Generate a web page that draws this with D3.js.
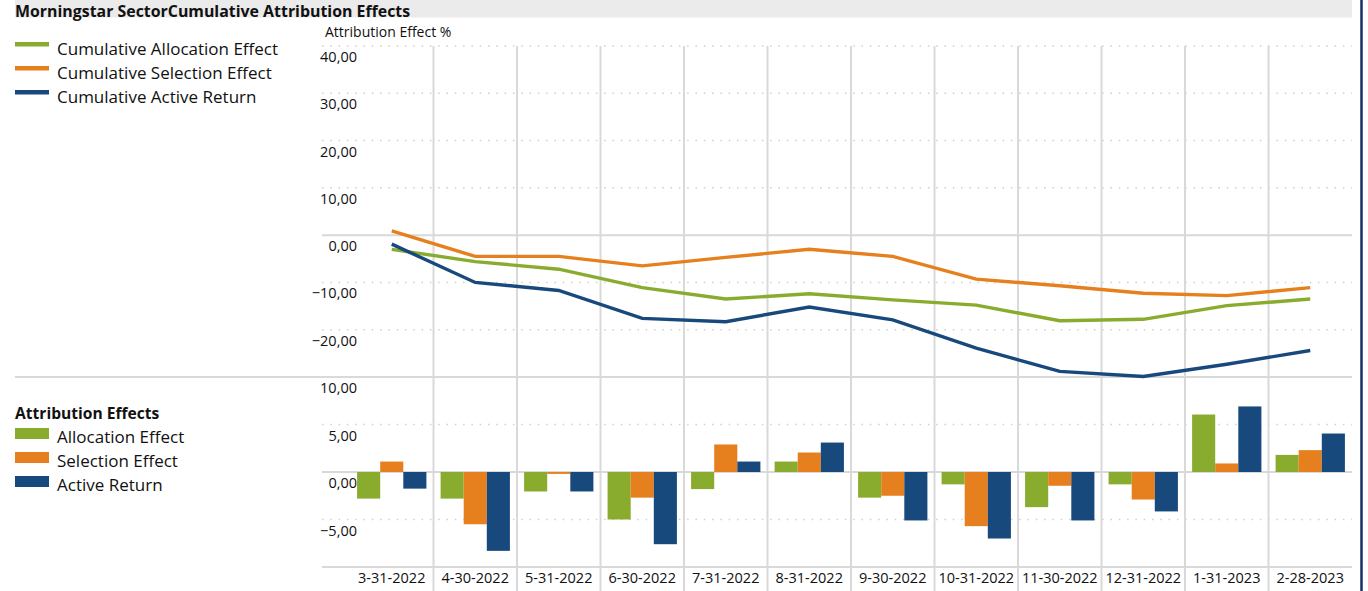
<!DOCTYPE html>
<meta charset="utf-8">
<style>
  body { margin: 0; background: white; font-family: "Open Sans", sans-serif; }
  .grid-dot { stroke: #cfcfcf; stroke-width: 1.5; stroke-dasharray: 1.5,6.8; }
  .grid-solid { stroke: #d9d9d9; stroke-width: 2; }
  .ylab, .xlab { font-size: 14.5px; fill: #111; }
  .leg { font-size: 17px; fill: #111; }
</style>
<body>
<script src="https://d3js.org/d3.v7.min.js"></script>
<script>
  // months
  var dates = ["3-31-2022", "4-30-2022", "5-31-2022", "6-30-2022", "7-31-2022", "8-31-2022",
    "9-30-2022", "10-31-2022", "11-30-2022", "12-31-2022", "1-31-2023", "2-28-2023"];

  // cumulative effects (top chart)
  var cumAllocation = [-3.0, -5.6, -7.2, -11.1, -13.5, -12.4, -13.7, -14.8, -18.1, -17.8, -14.9, -13.5];
  var cumSelection = [0.9, -4.5, -4.5, -6.5, -4.7, -3.0, -4.5, -9.3, -10.7, -12.3, -12.8, -11.1];
  var cumActive = [-1.9, -10.0, -11.7, -17.6, -18.3, -15.2, -17.9, -23.9, -28.8, -29.9, -27.3, -24.4];

  // monthly effects (bottom chart)
  var allocation = [-2.8, -2.8, -2.05, -5.0, -1.8, 1.1, -2.7, -1.3, -3.7, -1.3, 6.05, 1.8];
  var selection = [1.1, -5.5, -0.2, -2.7, 2.9, 2.05, -2.5, -5.7, -1.45, -2.9, 0.9, 2.3];
  var active = [-1.75, -8.3, -2.05, -7.6, 1.1, 3.1, -5.1, -7.0, -5.1, -4.15, 6.9, 4.05];

  var topTicks = [40, 30, 20, 10, 0, -10, -20];
  var botTicks = [10, 5, 0, -5];

  var green = "#89ac2f", orange = "#e6801f", blue = "#17497c";
  var fmt = function (v) { return d3.format(".2f")(v).replace(".", ","); };

  var W = 1368, H = 591;
  var svg = d3.select("body").append("svg").attr("width", W).attr("height", H);

  var plotL = 350, plotR = 1352, gridL = 322, labX = 357;

  var x0 = d3.scaleBand().domain(dates).range([plotL, plotR]);
  var bw = x0.bandwidth();
  var yTop = d3.scaleLinear().domain([-30, 40]).range([377, 46]);
  var yBot = d3.scaleLinear().domain([-10, 10]).range([567, 377]);

  // title bar
  svg.append("rect").attr("x", 15).attr("y", 0).attr("width", plotR - 15).attr("height", 17.5).attr("fill", "#ebebeb");
  svg.append("text").attr("x", 15).attr("y", 16.5).attr("font-weight", "bold").attr("font-size", "15.9px")
    .attr("fill", "#111").text("Morningstar SectorCumulative Attribution Effects");

  // right border
  svg.append("line").attr("x1", 1361.5).attr("x2", 1361.5).attr("y1", 0).attr("y2", H)
    .attr("stroke", "#1c2b6b").attr("stroke-width", 2.5);

  svg.append("text").attr("x", 325).attr("y", 37).attr("font-size", "14px").attr("fill", "#111")
    .text("Attribution Effect %");

  // top grid
  var tg = svg.append("g");
  tg.selectAll("line.h").data(topTicks).enter().append("line")
    .attr("class", d => d === 0 ? "grid-solid" : "grid-dot")
    .attr("x1", gridL).attr("x2", plotR).attr("y1", d => yTop(d)).attr("y2", d => yTop(d));
  tg.selectAll("line.v").data(dates.slice(1)).enter().append("line").attr("class", "grid-solid")
    .attr("x1", d => x0(d)).attr("x2", d => x0(d)).attr("y1", yTop(40)).attr("y2", yTop(-30));
  tg.selectAll("text").data(topTicks).enter().append("text").attr("class", "ylab")
    .attr("x", labX).attr("y", d => yTop(d) + 16).attr("text-anchor", "end").text(fmt);

  // separator
  svg.append("line").attr("class", "grid-solid").attr("x1", 15).attr("x2", plotR)
    .attr("y1", yTop(-30)).attr("y2", yTop(-30));

  // bottom grid
  var bg = svg.append("g");
  bg.selectAll("line.h").data([5, 0, -5, -10]).enter().append("line")
    .attr("class", d => (d === 0 || d === -10) ? "grid-solid" : "grid-dot")
    .attr("x1", gridL).attr("x2", plotR).attr("y1", d => yBot(d)).attr("y2", d => yBot(d));
  bg.selectAll("line.v").data(dates.slice(1)).enter().append("line").attr("class", "grid-solid")
    .attr("x1", d => x0(d)).attr("x2", d => x0(d)).attr("y1", yBot(10)).attr("y2", H);
  bg.selectAll("text").data(botTicks).enter().append("text").attr("class", "ylab")
    .attr("x", labX).attr("y", d => yBot(d) + 16).attr("text-anchor", "end").text(fmt);

  // x labels
  svg.append("g").selectAll("text").data(dates).enter().append("text").attr("class", "xlab")
    .attr("x", d => x0(d) + bw / 2).attr("y", 583).attr("text-anchor", "middle").text(d => d);

  // lines
  var line = d3.line().x((d, i) => x0(dates[i]) + bw / 2).y(d => yTop(d));
  [[cumAllocation, green], [cumSelection, orange], [cumActive, blue]].forEach(function (s) {
    svg.append("path").datum(s[0]).attr("d", line).attr("fill", "none")
      .attr("stroke", s[1]).attr("stroke-width", 3.4);
  });

  // bars
  var series = [{ k: "a", v: allocation, c: green }, { k: "s", v: selection, c: orange }, { k: "r", v: active, c: blue }];
  var x1 = d3.scaleBand().domain(series.map(d => d.k)).range([bw * 0.085, bw * 0.915]);
  series.forEach(function (s) {
    svg.append("g").selectAll("rect").data(s.v).enter().append("rect")
      .attr("x", (d, i) => x0(dates[i]) + x1(s.k))
      .attr("width", x1.bandwidth())
      .attr("y", d => yBot(Math.max(0, d)))
      .attr("height", d => Math.abs(yBot(d) - yBot(0)))
      .attr("fill", s.c);
  });

  // legends
  var lt = [["Cumulative Allocation Effect", green], ["Cumulative Selection Effect", orange], ["Cumulative Active Return", blue]];
  lt.forEach(function (d, i) {
    var y = 49 + i * 24;
    svg.append("rect").attr("x", 15).attr("y", y - 7).attr("width", 34).attr("height", 4.5).attr("fill", d[1]);
    svg.append("text").attr("class", "leg").attr("x", 57).attr("y", y + 6).text(d[0]);
  });

  svg.append("text").attr("x", 15).attr("y", 419).attr("font-weight", "bold").attr("font-size", "15.6px")
    .attr("fill", "#111").text("Attribution Effects");
  var lb = [["Allocation Effect", green], ["Selection Effect", orange], ["Active Return", blue]];
  lb.forEach(function (d, i) {
    var y = 437 + i * 24;
    svg.append("rect").attr("x", 15).attr("y", y - 9).attr("width", 34).attr("height", 11).attr("fill", d[1]);
    svg.append("text").attr("class", "leg").attr("x", 57).attr("y", y + 6).text(d[0]);
  });
</script>
</body>
